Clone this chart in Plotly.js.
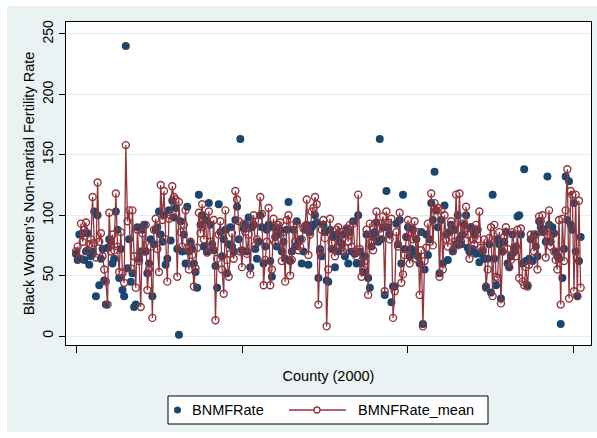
<!DOCTYPE html>
<html>
<head>
<meta charset="utf-8">
<script src="https://cdn.plot.ly/plotly-3.0.1.min.js"></script>
<style>
html,body{margin:0;padding:0;background:#ffffff;}
#chart{position:absolute;left:7px;top:6px;width:590px;height:426px;}
</style>
</head>
<body>
<div id="chart"></div>
<script>
// Black women's non-marital fertility rate by county (index), single year
const BNMFRate = [
68,63,84,64,85, 63,70,85,59,66, 70,103,33,100,42, 64,72,46,26,73,
80,78,60,64,103, 88,48,72,38,33, 240,56,80,45,52, 24,26,90,64,70,
88,92,70,52,60, 80,33,76,88,90, 103,84,78,100,59, 64,104,79,112,98,
106,72,1,95,70, 84,60,107,70,77, 72,60,53,40,117, 92,100,74,96,70,
110,92,76,71,58, 40,109,86,66,80, 88,52,76,90,74, 70,96,107,80,163,
71,89,92,70,98, 57,90,92,72,64, 78,100,90,60,74, 88,92,62,49,90,
82,74,84,88,70, 78,64,88,111,62, 70,88,74,95,78, 80,60,70,88,92,
59,86,90,92,100, 94,48,72,66,92, 86,46,45,88,72, 82,57,84,70,78,
76,84,66,88,60, 86,70,95,68,60, 100,70,60,53,66, 84,48,40,74,82,
86,94,78,163,80, 90,34,120,90,84, 28,41,41,93,76, 96,60,117,72,82,
90,66,72,88,70, 80,66,60,86,10, 55,84,67,80,110, 96,136,104,90,52,
96,60,108,84,63, 86,92,70,88,76, 100,80,76,84,92, 100,73,70,90,72,
84,68,88,61,68, 70,64,40,64,76, 36,117,64,42,80, 76,31,70,78,86,
60,57,66,84,70, 74,99,100,84,60, 138,62,42,64,80, 62,84,74,66,95,
90,86,88,78,132, 92,78,90,85,70, 66,64,10,48,72, 132,96,128,92,88,
110,70,33,62,82
];
// Mean of the rate over years, same counties
const BMNFRate_mean = [
70,74,64,93,78, 88,94,71,76,80, 115,77,65,127,78, 85,66,55,45,26,
102,70,84,71,118, 74,53,86,52,44, 158,95,104,56,104, 66,40,88,62,24,
85,70,92,38,55, 74,15,88,97,72, 53,125,96,120,80, 45,97,100,124,115,
113,49,111,86,74, 92,104,73,55,78, 67,41,56,73,102, 85,109,80,98,69,
103,78,72,96,13, 64,84,95,55,35, 104,63,49,68,85, 64,120,113,95,70,
57,93,86,68,84, 51,92,100,75,80, 95,115,101,42,63, 78,106,42,55,97,
77,84,92,94,62, 86,45,96,100,50, 63,92,78,93,71, 74,80,89,91,113,
67,84,103,106,115, 109,26,70,88,96, 81,8,55,97,77, 72,66,88,90,75,
86,70,73,89,78, 92,74,93,70,66, 117,72,49,55,62, 88,34,93,78,71,
93,103,80,89,93, 99,37,103,94,80, 97,15,37,86,74, 102,44,51,67,82,
96,60,89,80,95, 64,86,34,71,8, 62,73,93,78,118, 75,110,104,106,49,
104,55,100,80,74, 86,95,71,78,117, 75,118,78,93,86, 107,84,64,90,80,
76,92,80,103,73, 71,80,41,55,81, 90,33,92,49,48, 86,27,70,82,90,
72,57,63,86,73, 66,88,48,89,45, 42,57,41,59,84, 80,70,84,55,99,
95,100,86,65,84, 104,74,84,70,63, 55,96,26,97,62, 104,138,31,120,117,
37,117,33,112,40
];
const county = BNMFRate.map((_, i) => i);
const xTicks = [0, 100, 200, 300];
const yTicks = [0, 50, 100, 150, 200, 250];
const yTickText = ["0", "50", "100", "150", "200", "250"];
const seriesNames = ["BNMFRate", "BMNFRate_mean"];
const xTitle = "County (2000)";
const yTitle = "Black Women's Non-marital Fertility Rate";

const navy = "#1A476F", maroon = "#90353B", bg = "#EAF2F3";
const FONT = "Liberation Sans, Arial, Helvetica, sans-serif";

// paper-coordinate helpers (plot area: x 66..591, y 22..345 in page px)
const PW = 525, PH = 323;
const px = x => (x - 66) / PW;
const py = y => (345 - y) / PH;

const traces = [
  {
    x: county, y: BNMFRate, name: seriesNames[0],
    type: "scatter", mode: "markers",
    marker: {color: navy, size: 8, line: {width: 0}},
    showlegend: false
  },
  {
    x: county, y: BMNFRate_mean, name: seriesNames[1],
    type: "scatter", mode: "lines+markers",
    line: {color: maroon, width: 1.3},
    marker: {symbol: "circle-open", color: maroon, size: 7, line: {width: 1.4, color: maroon}},
    showlegend: false
  }
];

const shapes = [
  {type: "rect", xref: "paper", yref: "paper", x0: px(168), x1: px(488), y0: py(424), y1: py(396),
   line: {color: "#000", width: 1}, fillcolor: "#ffffff", layer: "above"},
  {type: "circle", xref: "paper", yref: "paper", x0: px(174), x1: px(181), y0: py(413.5), y1: py(406.5),
   line: {width: 0}, fillcolor: navy},
  {type: "line", xref: "paper", yref: "paper", x0: px(289), x1: px(346), y0: py(410), y1: py(410),
   line: {color: maroon, width: 1.3}},
  {type: "circle", xref: "paper", yref: "paper", x0: px(314), x1: px(320), y0: py(413), y1: py(407),
   line: {color: maroon, width: 1.3}, fillcolor: "#ffffff"}
];

const annotations = [
  {text: seriesNames[0], xref: "paper", yref: "paper", x: px(190), y: py(410), xanchor: "left", yanchor: "middle",
   showarrow: false, font: {family: FONT, size: 14.5, color: "#000"}},
  {text: seriesNames[1], xref: "paper", yref: "paper", x: px(356), y: py(410), xanchor: "left", yanchor: "middle",
   showarrow: false, font: {family: FONT, size: 14.5, color: "#000"}}
];

const layout = {
  width: 590, height: 426,
  margin: {l: 59, r: 6, t: 16, b: 87, pad: 0},
  paper_bgcolor: bg, plot_bgcolor: "#ffffff",
  font: {family: FONT, size: 14, color: "#000"},
  showlegend: false,
  xaxis: {
    range: [-6.03, 310.25], tickmode: "array", tickvals: xTicks, showticklabels: false,
    ticks: "outside", ticklen: 7, tickcolor: "#000", tickwidth: 1,
    showgrid: false, zeroline: false, showline: true, mirror: true, linecolor: "#000", linewidth: 1,
    title: {text: xTitle, font: {family: FONT, size: 14.5, color: "#000"}, standoff: 18}
  },
  yaxis: {
    range: [-7.45, 259.9], tickmode: "array", tickvals: yTicks, ticktext: yTickText, tickangle: -90,
    ticks: "outside", ticklen: 6, tickcolor: "#000", tickwidth: 1,
    tickfont: {family: FONT, size: 14, color: "#000"},
    showgrid: true, gridcolor: "#E4EDF0", gridwidth: 1, zeroline: false,
    showline: true, mirror: true, linecolor: "#000", linewidth: 1,
    title: {text: yTitle, font: {family: FONT, size: 14.5, color: "#000"}, standoff: 2}
  },
  shapes: shapes,
  annotations: annotations
};

Plotly.newPlot("chart", traces, layout, {staticPlot: true, displayModeBar: false});
</script>
</body>
</html>
